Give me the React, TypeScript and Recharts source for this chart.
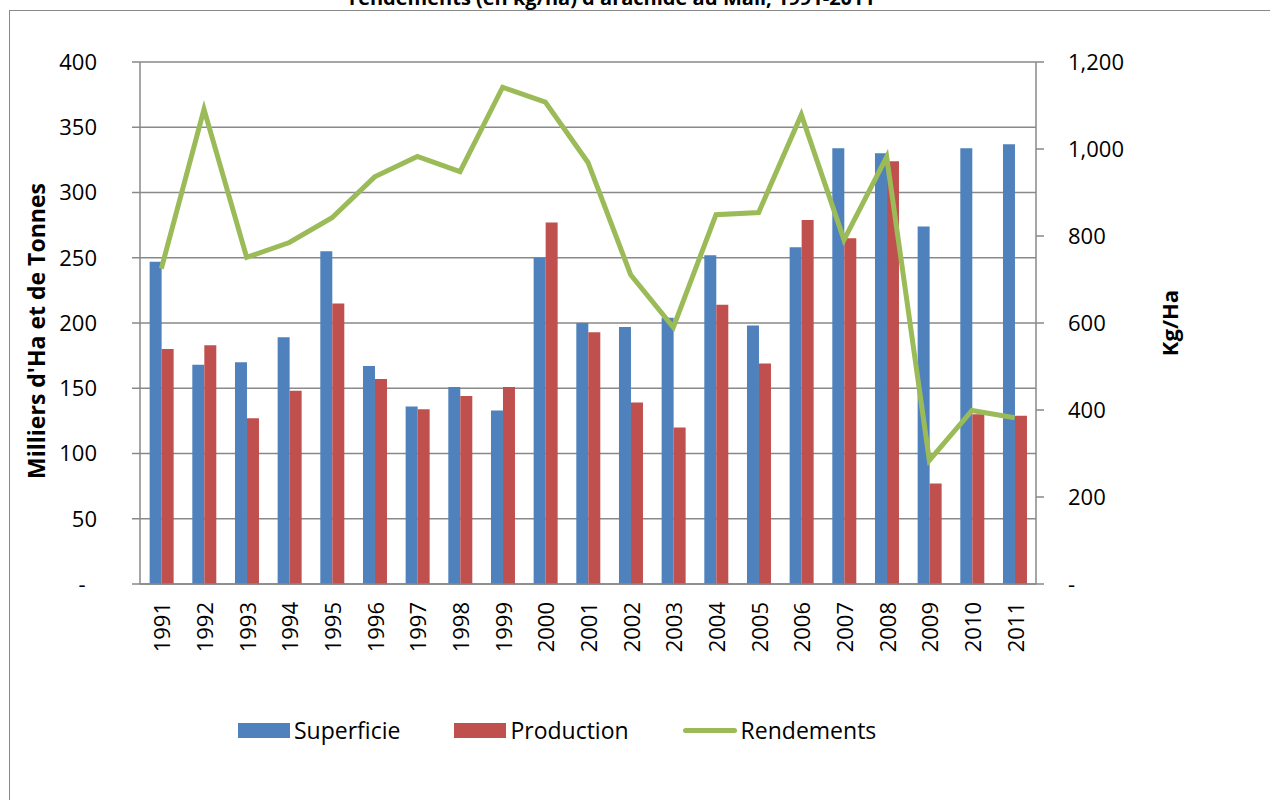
import { Bar, CartesianGrid, ComposedChart, Legend, Line, XAxis, YAxis } from "recharts";

const YEARS = [
  "1991", "1992", "1993", "1994", "1995", "1996", "1997", "1998", "1999", "2000", "2001",
  "2002", "2003", "2004", "2005", "2006", "2007", "2008", "2009", "2010", "2011",
];
// milliers d'ha
const SUPERFICIE = [247, 168, 170, 189, 255, 167, 136, 151, 133, 250, 200, 197, 204, 252, 198, 258, 334, 330, 274, 334, 337];
// milliers de tonnes
const PRODUCTION = [180, 183, 127, 148, 215, 157, 134, 144, 151, 277, 193, 139, 120, 214, 169, 279, 265, 324, 77, 130, 129];
// kg/ha
const RENDEMENTS = [725, 1091, 751, 785, 842, 936, 983, 948, 1142, 1108, 969, 711, 590, 849, 854, 1079, 791, 982, 284, 399, 382];

const SERIES_NAMES = ["Superficie", "Production", "Rendements"];
const LEFT_TICKS = [0, 50, 100, 150, 200, 250, 300, 350, 400];
const RIGHT_TICKS = [0, 200, 400, 600, 800, 1000, 1200];
const EDGE_TICKS = YEARS.map((_, i) => i).concat(YEARS.length);

const BLUE = "#4F81BD";
const RED = "#C0504D";
const GREEN = "#9BBB59";
const GREY = "#898989";
const FONT = "'Open Sans', 'Liberation Sans', sans-serif";

const data = YEARS.map((year, i) => ({
  year,
  superficie: SUPERFICIE[i],
  production: PRODUCTION[i],
  rendements: RENDEMENTS[i],
}));

const fmtLeft = (v: number) => (v === 0 ? "-\u00A0\u00A0" : String(v));
const fmtRight = (v: number) => (v === 0 ? "-" : v.toLocaleString("en-US"));

function YearTick({ x, y, payload }: any) {
  return (
    <text
      x={x}
      y={y}
      transform={`rotate(-90, ${x}, ${y})`}
      textAnchor="end"
      dominantBaseline="central"
      fontSize={22}
      fontFamily={FONT}
      fill="#000"
    >
      {payload.value}
    </text>
  );
}

function LegendContent({ payload }: any) {
  const items = [...(payload || [])].sort(
    (a: any, b: any) => SERIES_NAMES.indexOf(a.value) - SERIES_NAMES.indexOf(b.value)
  );
  return (
    <div style={{ display: "flex", alignItems: "center", gap: 54, fontFamily: FONT, fontSize: 23 }}>
      {items.map((item: any) => (
        <div key={item.value} style={{ display: "flex", alignItems: "center", gap: 4 }}>
          {item.type === "line" ? (
            <span style={{ width: 54, height: 5, borderRadius: 3, background: item.color }} />
          ) : (
            <span style={{ width: 52, height: 15, background: item.color }} />
          )}
          <span style={{ color: "#000" }}>{item.value}</span>
        </div>
      ))}
    </div>
  );
}

function LeftTitle({ viewBox }: any) {
  const cx = viewBox.x + 36;
  const cy = viewBox.y + viewBox.height / 2 + 8;
  return (
    <text
      x={cx}
      y={cy}
      transform={`rotate(-90, ${cx}, ${cy})`}
      textAnchor="middle"
      dominantBaseline="central"
      fontFamily={FONT}
      fontWeight="bold"
      fontSize={23}
      fill="#000"
    >
      Milliers d'Ha et de Tonnes
    </text>
  );
}

export default function App() {
  return (
    <div style={{ position: "absolute", left: 0, top: 0, width: 1270, height: 800, overflow: "hidden", background: "#fff" }}>
      <div
        style={{
          position: "absolute",
          left: 9,
          top: 10,
          width: 1400,
          height: 900,
          border: `1.5px solid ${GREY}`,
        }}
      />
      <svg style={{ position: "absolute", left: 0, top: 0 }} width={1270} height={20}>
        <text x={612} y={5} textAnchor="middle" fontFamily={FONT} fontWeight="bold" fontSize={20} fill="#000">
          rendements (en kg/ha) d'arachide au Mali, 1991-2011
        </text>
      </svg>
      <div style={{ position: "absolute", left: 0, top: 0 }}>
        <ComposedChart
          width={1270}
          height={800}
          data={data}
          margin={{ top: 62, right: 0, bottom: 0, left: 0 }}
          barCategoryGap="22.6%"
          barGap={0}
        >
          <CartesianGrid yAxisId="left" vertical={false} stroke={GREY} strokeWidth={1.5} />
          <XAxis
            xAxisId="edge"
            type="number"
            domain={[0, YEARS.length]}
            allowDataOverflow
            ticks={EDGE_TICKS}
            interval={0}
            tick={false}
            axisLine={false}
            tickSize={8}
            tickLine={{ stroke: GREY, strokeWidth: 1.5 }}
            height={0}
          />
          <XAxis
            xAxisId="cat"
            dataKey="year"
            interval={0}
            height={216}
            tickLine={false}
            tickSize={8}
            tickMargin={10}
            axisLine={{ stroke: GREY, strokeWidth: 1.5 }}
            tick={<YearTick />}
          />
          <YAxis
            yAxisId="left"
            width={140}
            domain={[0, 400]}
            ticks={LEFT_TICKS}
            interval={0}
            tickFormatter={fmtLeft}
            tickSize={8}
            tickMargin={35}
            axisLine={{ stroke: GREY, strokeWidth: 1.5 }}
            tickLine={{ stroke: GREY, strokeWidth: 1.5 }}
            tick={{ fill: "#000", fontSize: 22, fontFamily: FONT }}
            label={{ content: <LeftTitle /> }}
          />
          <YAxis
            yAxisId="right"
            orientation="right"
            width={234}
            domain={[0, 1200]}
            ticks={RIGHT_TICKS}
            interval={0}
            tickFormatter={fmtRight}
            tickSize={8}
            tickMargin={24}
            axisLine={{ stroke: GREY, strokeWidth: 1.5 }}
            tickLine={{ stroke: GREY, strokeWidth: 1.5 }}
            tick={{ fill: "#000", fontSize: 22, fontFamily: FONT, textAnchor: "start" }}
            label={{
              value: "Kg/Ha",
              angle: -90,
              position: "insideRight",
              offset: 100,
              textAnchor: "middle",
              style: { fontFamily: FONT, fontWeight: "bold", fontSize: 22, fill: "#000" },
            }}
          />
          <Legend
            verticalAlign="middle"
            align="center"
            layout="horizontal"
            content={<LegendContent />}
            wrapperStyle={{ top: 714, left: 238, width: 800 }}
          />
          <Bar xAxisId="cat" yAxisId="left" dataKey="superficie" name="Superficie" fill={BLUE} isAnimationActive={false} />
          <Bar xAxisId="cat" yAxisId="left" dataKey="production" name="Production" fill={RED} isAnimationActive={false} />
          <Line
            xAxisId="cat"
            yAxisId="right"
            type="linear"
            dataKey="rendements"
            name="Rendements"
            stroke={GREEN}
            strokeWidth={5}
            dot={false}
            legendType="line"
            isAnimationActive={false}
          />
        </ComposedChart>
      </div>
    </div>
  );
}
